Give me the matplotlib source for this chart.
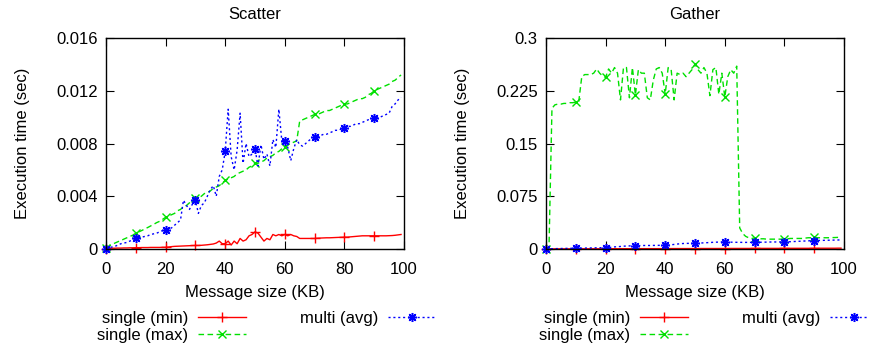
import numpy as np
import matplotlib
matplotlib.use("Agg")
import matplotlib.pyplot as plt

plt.rcParams['font.family'] = ['Liberation Sans', 'DejaVu Sans']
plt.rcParams['font.size'] = 12

# Message size (KB), one sample per KB
sizes = list(range(100))

# Scatter
scatter_min = [
    0.00003, 0.00005, 0.00006, 0.00006, 0.00007, 0.00007, 0.00008, 0.00008, 0.00009, 0.00009,
    0.0001, 0.0001, 0.00011, 0.00011, 0.00011, 0.00012, 0.00012, 0.00012, 0.00012, 0.00013,
    0.00013, 0.00015, 0.00018, 0.0002, 0.00021, 0.00022, 0.00023, 0.00024, 0.00025, 0.00026,
    0.00027, 0.00027, 0.00028, 0.0003, 0.00032, 0.00035, 0.00038, 0.00045, 0.0006, 0.0004,
    0.0004, 0.0006, 0.0003, 0.0006, 0.0004, 0.0008, 0.0006, 0.0007, 0.0010, 0.0011,
    0.0013, 0.0012, 0.0009, 0.0006, 0.0008, 0.0007, 0.0011, 0.0010, 0.0011, 0.0010,
    0.0011, 0.0010, 0.0011, 0.0010, 0.00095, 0.0008, 0.0008, 0.0008, 0.0008, 0.0008,
    0.0008, 0.00082, 0.00083, 0.00084, 0.00085, 0.00085, 0.00086, 0.00087, 0.00088, 0.00089,
    0.0009, 0.0009, 0.00092, 0.00094, 0.00096, 0.00098, 0.001, 0.001, 0.001, 0.001,
    0.001, 0.001, 0.001, 0.001, 0.001, 0.00101, 0.00102, 0.00104, 0.00107, 0.0011,
]
scatter_max = [
    0.0001, 0.0002, 0.00035, 0.00045, 0.00055, 0.00065, 0.00075, 0.00085, 0.00095, 0.00105,
    0.0012, 0.0013, 0.0014, 0.00152, 0.00163, 0.00175, 0.00187, 0.002, 0.0021, 0.00225,
    0.0024, 0.0025, 0.0026, 0.0027, 0.0029, 0.003, 0.0032, 0.0033, 0.0035, 0.0037,
    0.00385, 0.0039, 0.004, 0.0042, 0.0043, 0.0044, 0.0046, 0.0047, 0.0048, 0.005,
    0.0052, 0.0053, 0.0054, 0.0055, 0.0057, 0.0058, 0.0059, 0.006, 0.0062, 0.0063,
    0.0065, 0.0065, 0.0066, 0.0067, 0.0069, 0.007, 0.0071, 0.0073, 0.0074, 0.0076,
    0.00775, 0.0079, 0.008, 0.0081, 0.0082, 0.0097, 0.0098, 0.0099, 0.01, 0.0101,
    0.0102, 0.0102, 0.0103, 0.0104, 0.0105, 0.0105, 0.0106, 0.0107, 0.0108, 0.0109,
    0.011, 0.011, 0.0111, 0.0112, 0.0113, 0.0114, 0.0114, 0.0115, 0.0117, 0.0118,
    0.012, 0.0121, 0.0122, 0.0123, 0.0124, 0.0125, 0.0127, 0.0128, 0.013, 0.0132,
]
scatter_avg = [
    0.0, 0.0001, 0.00015, 0.0002, 0.0003, 0.0004, 0.00045, 0.0005, 0.0006, 0.0007,
    0.0008, 0.00085, 0.0009, 0.00095, 0.001, 0.0011, 0.00115, 0.0012, 0.0013, 0.0014,
    0.00146, 0.0015, 0.0016, 0.0018, 0.002, 0.0022, 0.0037, 0.0033, 0.003, 0.0034,
    0.0037, 0.0027, 0.0033, 0.0035, 0.004, 0.0045, 0.0048, 0.004, 0.0055, 0.006,
    0.0074, 0.0106, 0.007, 0.006, 0.0075, 0.0103, 0.0065, 0.008, 0.007, 0.0072,
    0.0076, 0.0063, 0.0079, 0.0068, 0.0072, 0.0063, 0.0083, 0.0077, 0.0106, 0.0082,
    0.0082, 0.0077, 0.0067, 0.0076, 0.0083, 0.0079, 0.0078, 0.008, 0.0082, 0.0084,
    0.0085, 0.0085, 0.0086, 0.0087, 0.0087, 0.0088, 0.0089, 0.009, 0.009, 0.0091,
    0.0092, 0.0093, 0.0093, 0.0094, 0.0095, 0.0095, 0.0096, 0.0097, 0.0098, 0.0098,
    0.0099, 0.01, 0.01, 0.0101, 0.0102, 0.0103, 0.0108, 0.011, 0.0113, 0.0115,
]

# Gather
gather_min = [
    0.0001, 0.0001, 0.0001, 0.0002, 0.0002, 0.0002, 0.0002, 0.0002, 0.0002, 0.0002,
    0.0002, 0.0002, 0.0003, 0.0003, 0.0003, 0.0003, 0.0003, 0.0003, 0.0003, 0.0003,
    0.0003, 0.0003, 0.0004, 0.0004, 0.0004, 0.0004, 0.0004, 0.0004, 0.0004, 0.0004,
    0.0004, 0.0004, 0.0005, 0.0005, 0.0005, 0.0005, 0.0005, 0.0005, 0.0005, 0.0005,
    0.0005, 0.0005, 0.0006, 0.0006, 0.0006, 0.0006, 0.0006, 0.0006, 0.0006, 0.0006,
    0.0006, 0.0006, 0.0007, 0.0007, 0.0007, 0.0007, 0.0007, 0.0007, 0.0007, 0.0007,
    0.0007, 0.0007, 0.0008, 0.0008, 0.0008, 0.0008, 0.0008, 0.0008, 0.0008, 0.0008,
    0.0008, 0.0008, 0.0009, 0.0009, 0.0009, 0.0009, 0.0009, 0.0009, 0.0009, 0.0009,
    0.0009, 0.0009, 0.001, 0.001, 0.001, 0.001, 0.001, 0.001, 0.001, 0.001,
    0.001, 0.001, 0.0011, 0.0011, 0.0011, 0.0011, 0.0011, 0.0011, 0.0012, 0.0012,
]
gather_max = [
    0.0005, 0.001, 0.2, 0.205, 0.206, 0.206, 0.207, 0.207, 0.208, 0.208,
    0.209, 0.21, 0.245, 0.248, 0.248, 0.248, 0.25, 0.256, 0.25, 0.246,
    0.244, 0.256, 0.25, 0.258, 0.25, 0.212, 0.258, 0.258, 0.215, 0.258,
    0.219, 0.255, 0.25, 0.25, 0.215, 0.212, 0.24, 0.256, 0.258, 0.25,
    0.22, 0.258, 0.255, 0.212, 0.25, 0.248, 0.25, 0.245, 0.25, 0.255,
    0.263, 0.255, 0.25, 0.258, 0.25, 0.218, 0.255, 0.258, 0.22, 0.25,
    0.216, 0.245, 0.255, 0.25, 0.26, 0.03, 0.022, 0.018, 0.016, 0.015,
    0.0156, 0.015, 0.0145, 0.0145, 0.014, 0.014, 0.014, 0.014, 0.014, 0.014,
    0.0145, 0.0145, 0.015, 0.015, 0.015, 0.015, 0.015, 0.0155, 0.016, 0.016,
    0.0165, 0.016, 0.016, 0.016, 0.016, 0.016, 0.0162, 0.0163, 0.0165, 0.0166,
]
gather_avg = [
    0.0, 0.0002, 0.0004, 0.0005, 0.0006, 0.0007, 0.0008, 0.0009, 0.001, 0.001,
    0.001, 0.0011, 0.0012, 0.0013, 0.0014, 0.0015, 0.0016, 0.0017, 0.0018, 0.0019,
    0.002, 0.0022, 0.0025, 0.003, 0.0033, 0.0036, 0.004, 0.0042, 0.0044, 0.0046,
    0.0047, 0.0048, 0.0049, 0.005, 0.005, 0.005, 0.0051, 0.0051, 0.0052, 0.0052,
    0.0052, 0.0055, 0.006, 0.0065, 0.007, 0.0075, 0.0078, 0.008, 0.008, 0.008,
    0.008, 0.0082, 0.0085, 0.0088, 0.009, 0.0092, 0.0095, 0.0097, 0.0098, 0.0099,
    0.0099, 0.0098, 0.0097, 0.0096, 0.0095, 0.0095, 0.0094, 0.0094, 0.0094, 0.0094,
    0.0094, 0.0095, 0.0096, 0.0097, 0.0098, 0.0099, 0.01, 0.01, 0.01, 0.01,
    0.01, 0.0102, 0.0104, 0.0106, 0.0108, 0.011, 0.0112, 0.0114, 0.0116, 0.0118,
    0.012, 0.0121, 0.0122, 0.0123, 0.0124, 0.0125, 0.0126, 0.0127, 0.0128, 0.013,
]

x_ticks = [0, 20, 40, 60, 80, 100]
scatter_yticks = [0, 0.004, 0.008, 0.012, 0.016]
scatter_ylabels = ["0", "0.004", "0.008", "0.012", "0.016"]
gather_yticks = [0, 0.075, 0.15, 0.225, 0.3]
gather_ylabels = ["0", "0.075", "0.15", "0.225", "0.3"]

labels = ["single (min)", "single (max)", "multi (avg)"]

fig = plt.figure(figsize=(8.7, 3.45), dpi=100)
W, H = 870.0, 345.0
ax1 = fig.add_axes([106 / W, 1 - 249 / H, 298 / W, 211 / H])
ax2 = fig.add_axes([546 / W, 1 - 249 / H, 298 / W, 211 / H])

star = (8, 2, 0)


def draw(ax, title, y_min, y_max, y_avg, yticks, ylabels, leg_x):
    ax.plot(sizes, y_min, color='#ff0000', lw=1.0, ls='-', marker='+', ms=7,
            mew=1.0, markevery=10, clip_on=False, label=labels[0])
    ax.plot(sizes, y_max, color='#00e000', lw=1.0, ls=(0, (4, 2.5)), marker='x',
            ms=6, mew=1.0, markevery=10, clip_on=False, label=labels[1])
    ax.plot(sizes, y_avg, color='#0000ff', lw=1.0, ls=(0, (1.5, 2)), marker=star,
            ms=6.5, mew=1.1, markevery=10, clip_on=False, label=labels[2])
    ax.set_xlim(0, 100)
    ax.set_ylim(yticks[0], yticks[-1])
    ax.set_xticks(x_ticks)
    ax.set_yticks(yticks)
    ax.set_yticklabels(ylabels)
    ax.tick_params(direction='in', top=True, right=True, length=6, width=0.8,
                   labelsize=12)
    ax.tick_params(axis='x', pad=9)
    ax.tick_params(axis='y', pad=6)
    for s in ax.spines.values():
        s.set_linewidth(1.0)
    ax.set_title(title, fontsize=12, pad=14)
    ax.set_xlabel("Message size (KB)", fontsize=12, labelpad=6)
    ax.set_ylabel("Execution time (sec)", fontsize=12, labelpad=19)
    ax.legend(loc='upper left', bbox_to_anchor=(leg_x / W, 1 - 311 / H),
              bbox_transform=fig.transFigure, ncol=2, frameon=False,
              markerfirst=False, handlelength=2.9, handletextpad=0.6,
              columnspacing=3.2, labelspacing=0.12, borderpad=0,
              borderaxespad=0, fontsize=12)


draw(ax1, "Scatter", scatter_min, scatter_max, scatter_avg,
     scatter_yticks, scatter_ylabels, 97)
draw(ax2, "Gather", gather_min, gather_max, gather_avg,
     gather_yticks, gather_ylabels, 539)

fig.savefig("out.png", dpi=100)
